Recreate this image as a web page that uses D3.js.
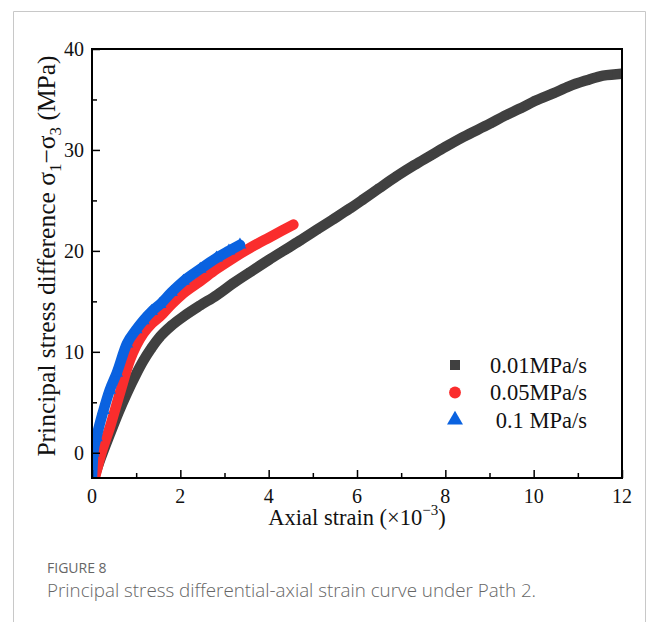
<!DOCTYPE html>
<html>
<head>
<meta charset="utf-8">
<script src="https://cdn.jsdelivr.net/npm/d3@7"></script>
<style>
  body { margin: 0; background: #fff; }
  svg { display: block; }
</style>
</head>
<body>
<div id="chart"></div>
<script>
// values (strain in 1e-3, stress in MPa)
var rates = ["0.01MPa/s", "0.05MPa/s", "0.1 MPa/s"];
var strain001 = [0.05, 0.2, 0.41, 0.6, 0.79, 1.0, 1.16, 1.35, 1.54, 1.8, 2.07, 2.45, 2.82, 3.2, 3.58, 4.0, 4.33, 4.7, 5.09, 5.45, 5.84, 6.14, 6.5, 6.9, 7.3, 7.65, 8.0, 8.41, 9.01, 9.35, 9.69, 10.05, 10.44, 10.8, 11.2, 11.5, 11.87];
var stress001 = [-2.4, -0.5, 1.9, 4.0, 5.9, 7.8, 9.1, 10.4, 11.5, 12.6, 13.5, 14.6, 15.6, 16.8, 17.9, 19.1, 20.0, 21.0, 22.1, 23.1, 24.2, 25.1, 26.2, 27.4, 28.5, 29.4, 30.3, 31.3, 32.6, 33.4, 34.1, 34.9, 35.6, 36.3, 36.9, 37.3, 37.5];
var strain005 = [0.07, 0.2, 0.41, 0.63, 0.86, 1.0, 1.16, 1.35, 1.54, 1.8, 2.07, 2.45, 2.82, 3.2, 3.58, 4.0, 4.3, 4.56];
var stress005 = [-2.4, -0.2, 2.6, 5.9, 9.2, 10.6, 11.8, 12.8, 13.5, 14.7, 15.8, 17.0, 18.2, 19.3, 20.3, 21.3, 22.0, 22.6];
var strain01 = [0.0, 0.03, 0.1, 0.26, 0.4, 0.56, 0.79, 1.0, 1.16, 1.35, 1.54, 1.8, 2.07, 2.45, 2.82, 3.1, 3.35];
var stress01 = [-2.4, 0.0, 1.5, 4.2, 6.2, 7.9, 10.8, 12.2, 13.1, 14.0, 14.7, 15.9, 17.0, 18.2, 19.3, 20.0, 20.6];
var xTicks = [0, 2, 4, 6, 8, 10, 12];
var yTicks = [0, 10, 20, 30, 40];

var colors = ["#404040", "#fa2d2d", "#0a62e0"];
var shapes = [d3.symbolSquare, d3.symbolCircle, d3.symbolTriangle];

var width = 656, height = 622;
var margin = {top: 49, right: 34, bottom: 144, left: 92};

var svg = d3.select("#chart")
    .append("svg")
        .attr("width", width)
        .attr("height", height);

// outer card border
svg.append("path")
    .attr("d", "M13.5,640 V11.5 H645.5 V640")
    .attr("fill", "none")
    .attr("stroke", "#c8c8c8")
    .attr("stroke-width", 1);

var x = d3.scaleLinear().domain([0, 12]).range([margin.left, width - margin.right]);
var y = d3.scaleLinear().domain([-2.5, 40]).range([height - margin.bottom, margin.top]);

svg.append("clipPath").attr("id", "plot")
    .append("rect")
        .attr("x", x(0)).attr("y", y(40))
        .attr("width", x(12) - x(0)).attr("height", y(-2.5) - y(40));

var series = [
    {name: rates[0], xs: strain001, ys: stress001},
    {name: rates[1], xs: strain005, ys: stress005},
    {name: rates[2], xs: strain01, ys: stress01}
];

var line = d3.line()
    .x(d => x(d[0]))
    .y(d => y(d[1]))
    .curve(d3.curveMonotoneX);

var g = svg.append("g").attr("clip-path", "url(#plot)");

series.forEach(function(s, i){
    var pts = s.xs.map((v, j) => [v, s.ys[j]]);
    // dense markers in the original merge into a thick band
    g.append("path")
        .datum(pts)
        .attr("d", line)
        .attr("fill", "none")
        .attr("stroke", colors[i])
        .attr("stroke-width", 10.5)
        .attr("stroke-linecap", i == 0 ? "square" : "round")
        .attr("stroke-linejoin", "round");
    g.selectAll(".m" + i)
        .data(pts)
        .enter()
        .append("path")
            .attr("class", "m" + i)
            .attr("d", d3.symbol().type(shapes[i]).size(i == 2 ? 70 : 55))
            .attr("transform", d => "translate(" + x(d[0]) + "," + y(d[1]) + ")")
            .attr("fill", colors[i]);
});

// axes: ticks inward on bottom and left only
var xAxis = d3.axisBottom(x).tickValues(d3.range(0, 13, 1)).tickSize(-8).tickFormat("");
var yAxis = d3.axisLeft(y).tickValues(d3.range(0, 41, 5)).tickSize(-8).tickFormat("");

svg.append("g")
    .attr("transform", "translate(0," + y(-2.5) + ")")
    .call(xAxis)
    .call(a => a.selectAll(".tick line").attr("stroke-width", 1.5).filter(d => d % 2 == 1).attr("y2", -5))
    .call(a => a.select(".domain").remove());

svg.append("g")
    .attr("transform", "translate(" + x(0) + ",0)")
    .call(yAxis)
    .call(a => a.selectAll(".tick line").attr("stroke-width", 1.5).filter(d => d % 10 == 5).attr("x2", 5))
    .call(a => a.select(".domain").remove());

svg.append("rect")
    .attr("x", x(0)).attr("y", y(40))
    .attr("width", x(12) - x(0)).attr("height", y(-2.5) - y(40))
    .attr("fill", "none")
    .attr("stroke", "#000")
    .attr("stroke-width", 2);

var serif = "'Liberation Serif', 'Times New Roman', serif";

svg.selectAll(".xl")
    .data(xTicks)
    .enter()
    .append("text")
        .attr("class", "xl")
        .text(d => d)
        .attr("x", d => x(d))
        .attr("y", y(-2.5) + 25)
        .attr("text-anchor", "middle")
        .attr("font-family", serif)
        .attr("font-size", 20)
        .attr("fill", "#111");

svg.selectAll(".yl")
    .data(yTicks)
    .enter()
    .append("text")
        .attr("class", "yl")
        .text(d => d)
        .attr("x", x(0) - 8)
        .attr("y", d => y(d) + 7)
        .attr("text-anchor", "end")
        .attr("font-family", serif)
        .attr("font-size", 20)
        .attr("fill", "#111");

// axis titles
var xt = svg.append("text")
    .attr("x", 357)
    .attr("y", 525)
    .attr("text-anchor", "middle")
    .attr("font-family", serif)
    .attr("font-size", 22.5)
    .attr("fill", "#111");
xt.append("tspan").text("Axial strain (\u00d710");
xt.append("tspan").text("\u22123").attr("font-size", 15).attr("dy", -10);
xt.append("tspan").text(")").attr("dy", 10);

var yt = svg.append("text")
    .attr("transform", "translate(55,256) rotate(-90)")
    .attr("text-anchor", "middle")
    .attr("font-family", serif)
    .attr("font-size", 25.5)
    .attr("fill", "#111");
yt.append("tspan").text("Principal stress difference \u03c3");
yt.append("tspan").text("1").attr("font-size", 17).attr("dy", 6);
yt.append("tspan").text("\u2212\u03c3").attr("dy", -6);
yt.append("tspan").text("3").attr("font-size", 17).attr("dy", 6);
yt.append("tspan").text(" (MPa)").attr("dy", -6);

// legend
var legend = svg.append("g");
series.forEach(function(s, i){
    var ly = 365 + i * 27.5;
    legend.append("path")
        .attr("d", d3.symbol().type(shapes[i]).size(i == 0 ? 100 : 110))
        .attr("transform", "translate(455," + ly + ")")
        .attr("fill", colors[i]);
    legend.append("text")
        .text(s.name)
        .attr("x", 587)
        .attr("y", ly + 7.5)
        .attr("text-anchor", "end")
        .attr("font-family", serif)
        .attr("font-size", 22.5)
        .attr("fill", "#111");
});

// caption
svg.append("text")
    .text("FIGURE 8")
    .attr("x", 47)
    .attr("y", 573)
    .attr("font-family", "'Open Sans', 'Noto Sans', sans-serif")
    .attr("font-size", 14)
    .attr("fill", "#666");
svg.append("text")
    .text("Principal stress differential-axial strain curve under Path 2.")
    .attr("x", 47)
    .attr("y", 597)
    .attr("font-family", "'Open Sans', 'Noto Sans', sans-serif")
    .attr("font-size", 18.8)
    .attr("font-weight", 300)
    .attr("fill", "#666");
</script>
</body>
</html>
